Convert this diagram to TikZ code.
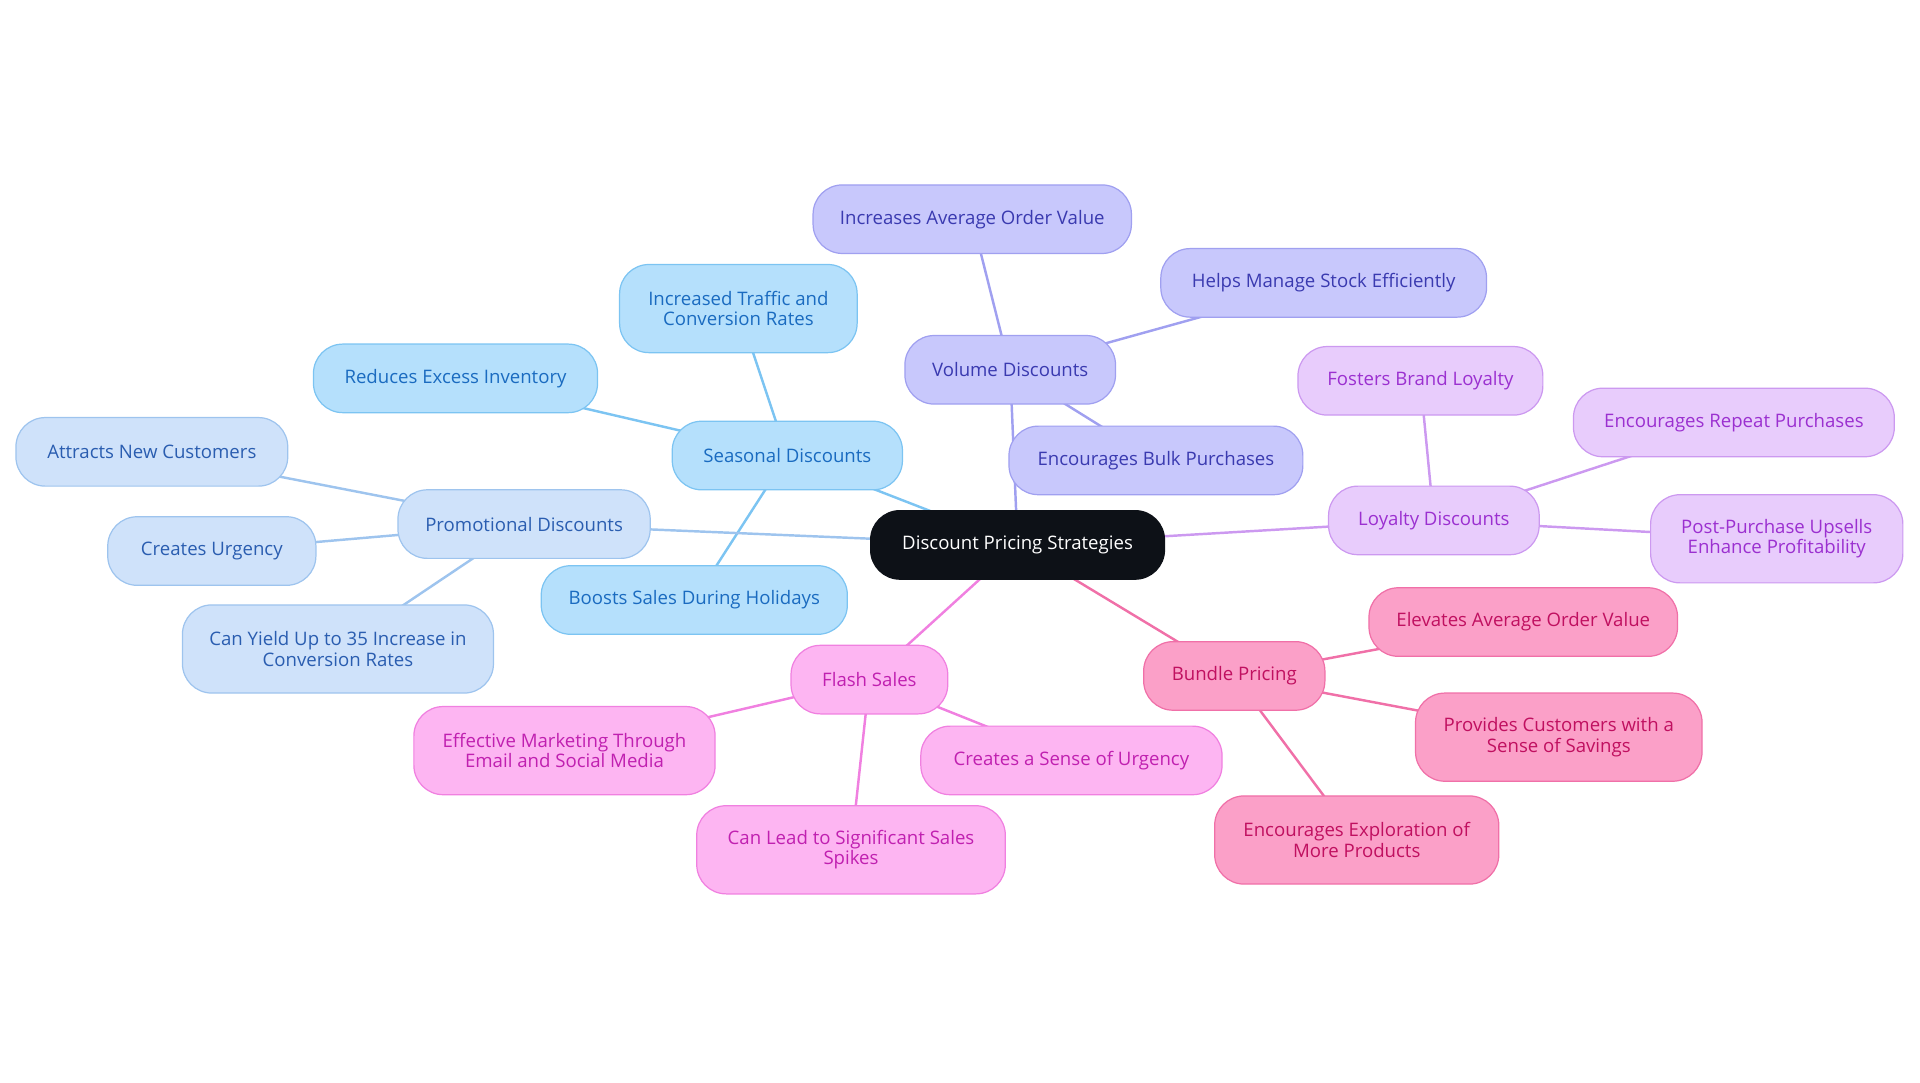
\documentclass[tikz,border=0pt]{standalone}
\usepackage{fontspec}
\setmainfont{Open Sans}
\usetikzlibrary{backgrounds}
\definecolor{cfS}{HTML}{B5E0FC}\definecolor{cdS}{HTML}{7CC4F2}\definecolor{ctS}{HTML}{1A6BC0}
\definecolor{cfP}{HTML}{CFE2FA}\definecolor{cdP}{HTML}{9EC4EE}\definecolor{ctP}{HTML}{2A5DB0}
\definecolor{cfV}{HTML}{C8C8FC}\definecolor{cdV}{HTML}{A0A0F0}\definecolor{ctV}{HTML}{3A3AB0}
\definecolor{cfL}{HTML}{E8CCFC}\definecolor{cdL}{HTML}{CC99F0}\definecolor{ctL}{HTML}{9B30D0}
\definecolor{cfB}{HTML}{FBA0C8}\definecolor{cdB}{HTML}{F070A8}\definecolor{ctB}{HTML}{C01060}
\definecolor{cfF}{HTML}{FDB5F2}\definecolor{cdF}{HTML}{F080E0}\definecolor{ctF}{HTML}{C020B0}
\definecolor{cC}{HTML}{0D1117}
\tikzset{x=0.5pt,y=-0.5pt,
 box/.style={rounded corners=12pt,draw,line width=0.5pt,align=center,font=\fontsize{7.6}{8.4}\selectfont,inner sep=0pt,minimum height=28pt},
 S/.style={box,fill=cfS,draw=cdS,text=ctS},
 P/.style={box,fill=cfP,draw=cdP,text=ctP},
 V/.style={box,fill=cfV,draw=cdV,text=ctV},
 L/.style={box,fill=cfL,draw=cdL,text=ctL},
 B/.style={box,fill=cfB,draw=cdB,text=ctB},
 F/.style={box,fill=cfF,draw=cdF,text=ctF},
 tall/.style={minimum height=36pt},
 e/.style={line width=1pt}}
\begin{document}
\begin{tikzpicture}
\useasboundingbox (0,0) rectangle (1568,884);
\node[box,fill=cC,draw=cC,text=white,minimum width=120pt] (c) at (831,445) {Discount Pricing Strategies};
\node[S,minimum width=94pt] (s) at (643,372) {Seasonal Discounts};
\node[S,tall,minimum width=97pt] (s1) at (603,252) {Increased Traffic and\\Conversion Rates};
\node[S,minimum width=116pt] (s2) at (372,309) {Reduces Excess Inventory};
\node[S,minimum width=125pt] (s3) at (567,490) {Boosts Sales During Holidays};
\node[P,minimum width=103pt] (p) at (428,428) {Promotional Discounts};
\node[P,minimum width=111pt] (p1) at (124,369) {Attracts New Customers};
\node[P,minimum width=85pt] (p2) at (173,450) {Creates Urgency};
\node[P,tall,minimum width=127pt] (p3) at (276,530) {Can Yield Up to 35 Increase in\\Conversion Rates};
\node[V,minimum width=86pt] (v) at (825,302) {Volume Discounts};
\node[V,minimum width=130pt] (v1) at (794,179) {Increases Average Order Value};
\node[V,minimum width=133pt] (v2) at (1081,231) {Helps Manage Stock Efficiently};
\node[V,minimum width=120pt] (v3) at (944,376) {Encourages Bulk Purchases};
\node[L,minimum width=86pt] (l) at (1171,425) {Loyalty Discounts};
\node[L,minimum width=100pt] (l1) at (1160,311) {Fosters Brand Loyalty};
\node[L,minimum width=131pt] (l2) at (1416,345) {Encourages Repeat Purchases};
\node[L,tall,minimum width=103pt] (l3) at (1451,440) {Post-Purchase Upsells\\Enhance Profitability};
\node[B,minimum width=74pt] (b) at (1008,552) {Bundle Pricing};
\node[B,minimum width=126pt] (b1) at (1244,508) {Elevates Average Order Value};
\node[B,tall,minimum width=117pt] (b2) at (1273,602) {Provides Customers with a\\Sense of Savings};
\node[B,tall,minimum width=116pt] (b3) at (1108,686) {Encourages Exploration of\\More Products};
\node[F,minimum width=64pt] (f) at (710,555) {Flash Sales};
\node[F,tall,minimum width=123pt] (f1) at (461,613) {Effective Marketing Through\\Email and Social Media};
\node[F,minimum width=123pt] (f2) at (875,621) {Creates a Sense of Urgency};
\node[F,tall,minimum width=126pt] (f3) at (695,694) {Can Lead to Significant Sales\\Spikes};
\begin{scope}[on background layer]
\draw[e,cdS] (c.center)--(s.center) (s.center)--(s1.center) (s.center)--(s2.center) (s.center)--(s3.center);
\draw[e,cdP] (c.center)--(p.center) (p.center)--(p1.center) (p.center)--(p2.center) (p.center)--(p3.center);
\draw[e,cdV] (c.center)--(v.center) (v.center)--(v1.center) (v.center)--(v2.center) (v.center)--(v3.center);
\draw[e,cdL] (c.center)--(l.center) (l.center)--(l1.center) (l.center)--(l2.center) (l.center)--(l3.center);
\draw[e,cdB] (c.center)--(b.center) (b.center)--(b1.center) (b.center)--(b2.center) (b.center)--(b3.center);
\draw[e,cdF] (c.center)--(f.center) (f.center)--(f1.center) (f.center)--(f2.center) (f.center)--(f3.center);
\end{scope}
\end{tikzpicture}
\end{document}
